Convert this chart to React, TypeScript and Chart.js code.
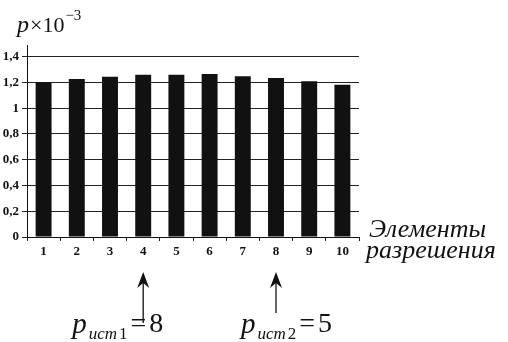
import React, { useEffect, useRef } from "react";
import { Chart, registerables } from "chart.js";

Chart.register(...registerables);

const categories = ["1", "2", "3", "4", "5", "6", "7", "8", "9", "10"];
const values = [1.2, 1.226, 1.244, 1.26, 1.26, 1.265, 1.247, 1.234, 1.208, 1.182];
const yTickValues = [0, 0.2, 0.4, 0.6, 0.8, 1, 1.2, 1.4];
const markedCategories = [3, 7]; // index of "4" and "8"
const markedLabels = [
  { sub: "ист", idx: "1", val: "8" },
  { sub: "ист", idx: "2", val: "5" },
];
const axisTitleLines = ["Элементы", "разрешения"];

const SERIF = '"Liberation Serif", "Times New Roman", Times, serif';

const annotations = {
  id: "annotations",
  afterDraw(chart: any) {
    const ctx = chart.ctx as CanvasRenderingContext2D;
    const xs = chart.scales.x;
    ctx.save();
    ctx.fillStyle = "#111";
    ctx.strokeStyle = "#111";
    ctx.textBaseline = "alphabetic";
    ctx.textAlign = "left";

    // y-axis unit title: p×10^-3
    ctx.font = `italic 24px ${SERIF}`;
    ctx.fillText("p", 17, 32);
    let x = 17 + ctx.measureText("p").width + 1;
    ctx.font = `22px ${SERIF}`;
    ctx.fillText("×10", x, 32);
    x += ctx.measureText("×10").width + 1;
    ctx.font = `15px ${SERIF}`;
    ctx.fillText("−3", x, 20);

    // x-axis title
    ctx.font = `italic 26px ${SERIF}`;
    ctx.fillText(axisTitleLines[0], 369, 237);
    ctx.fillText(axisTitleLines[1], 366, 258);

    // arrows + labels
    markedCategories.forEach((ci, k) => {
      const ax = xs.getPixelForValue(ci);
      const tipY = 272;
      const endY = k === 0 ? 323 : 313;
      ctx.lineWidth = 1.3;
      ctx.beginPath();
      ctx.moveTo(ax, endY);
      ctx.lineTo(ax, tipY + 8);
      ctx.stroke();
      ctx.beginPath();
      ctx.moveTo(ax, tipY);
      ctx.lineTo(ax - 6, tipY + 16);
      ctx.lineTo(ax, tipY + 11);
      ctx.lineTo(ax + 6, tipY + 16);
      ctx.closePath();
      ctx.fill();

      const lbl = markedLabels[k];
      let tx = k === 0 ? ax - 71 : ax - 35;
      const by = 333;
      ctx.font = `italic 29px ${SERIF}`;
      ctx.fillText("p", tx, by);
      tx += ctx.measureText("p").width + 2;
      ctx.font = `italic 17px ${SERIF}`;
      ctx.fillText(lbl.sub, tx, by + 6);
      tx += ctx.measureText(lbl.sub).width + 2;
      ctx.font = `17px ${SERIF}`;
      ctx.fillText(lbl.idx, tx, by + 6);
      tx += ctx.measureText(lbl.idx).width + 3;
      ctx.font = `28px ${SERIF}`;
      ctx.fillText("=", tx, by - 1);
      tx += ctx.measureText("=").width + 3;
      ctx.fillText(lbl.val, tx, by - 1);
    });
    ctx.restore();
  },
};

export default function App() {
  const ref = useRef<HTMLCanvasElement | null>(null);
  useEffect(() => {
    if (!ref.current) return;
    const chart = new Chart(ref.current, {
      type: "bar",
      data: {
        labels: categories,
        datasets: [
          {
            data: values,
            backgroundColor: "#111",
            borderWidth: 0,
            barPercentage: 0.48,
            categoryPercentage: 1,
          },
        ],
      },
      options: {
        responsive: true,
        maintainAspectRatio: false,
        animation: false,
        layout: { padding: { top: 45, right: 149, left: 0, bottom: 0 } },
        plugins: { legend: { display: false }, tooltip: { enabled: false } },
        scales: {
          x: {
            grid: {
              drawOnChartArea: false,
              drawTicks: true,
              tickLength: 4,
              color: "#222",
              offset: true,
            },
            border: { color: "#111", width: 1 },
            ticks: {
              color: "#111",
              padding: 3,
              font: { family: SERIF, size: 13, weight: "bold" },
              maxRotation: 0,
            },
            afterFit: (s: any) => {
              s.height = 105;
            },
          },
          y: {
            min: 0,
            max: 1.49,
            afterBuildTicks: (s: any) => {
              s.ticks = yTickValues.map((v) => ({ value: v }));
            },
            grid: { color: "#222", lineWidth: 1, tickLength: 5, drawTicks: true },
            border: { color: "#111", width: 1 },
            ticks: {
              color: "#111",
              padding: 3,
              font: { family: SERIF, size: 13, weight: "bold" },
              callback: (v: any) => String(Number(Number(v).toFixed(1))).replace(".", ","),
            },
            afterFit: (s: any) => {
              s.width = 27;
            },
          },
        },
      },
      plugins: [annotations],
    });
    return () => chart.destroy();
  }, []);
  return (
    <div style={{ position: "fixed", left: 0, top: 0, width: 508, height: 342, background: "#fff" }}>
      <canvas ref={ref} />
    </div>
  );
}
